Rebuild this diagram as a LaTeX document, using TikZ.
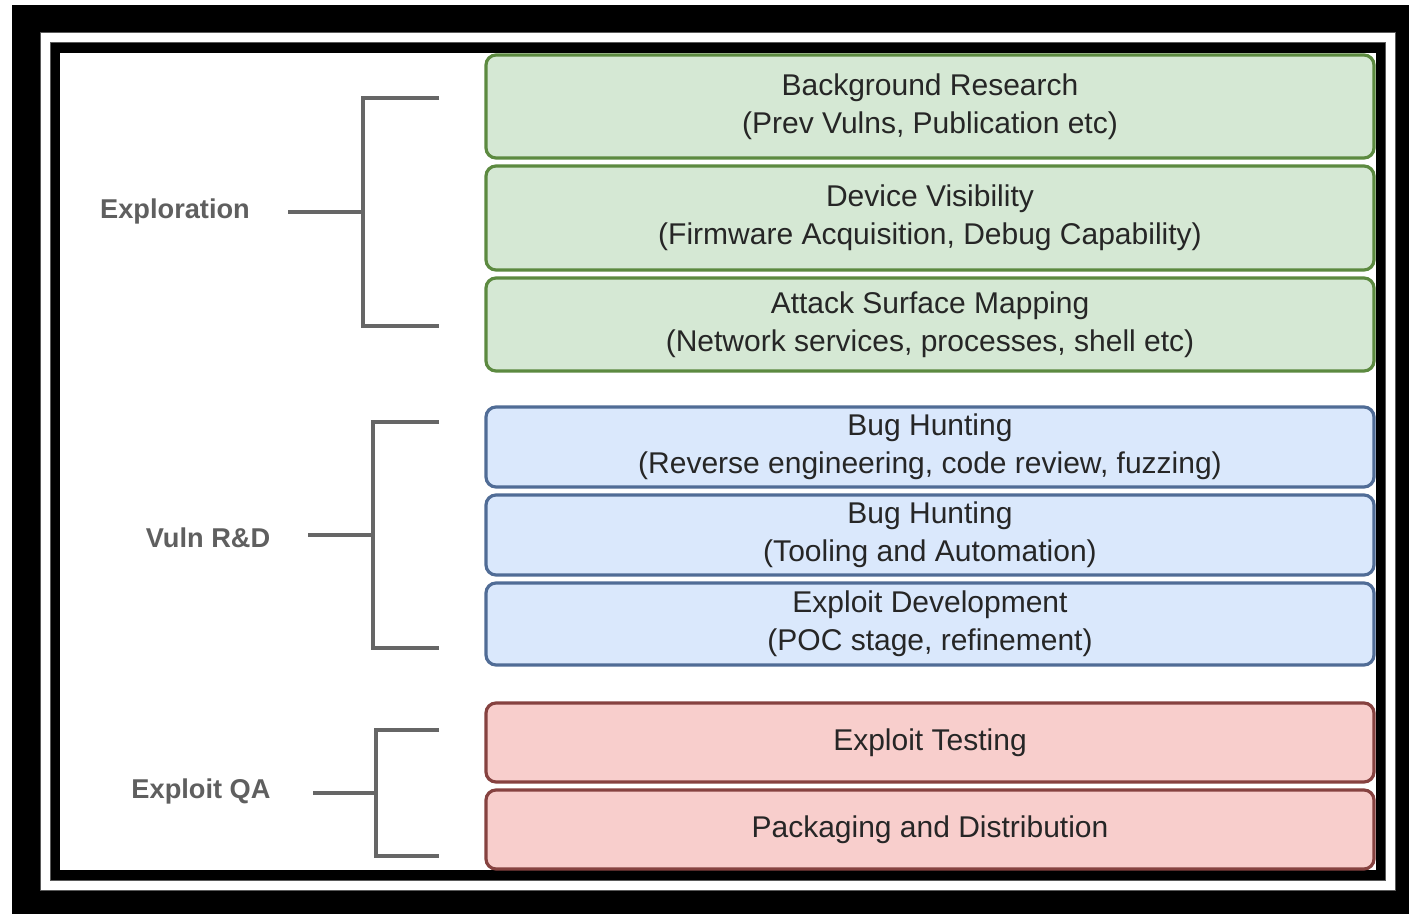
\documentclass[tikz,border=0pt]{standalone}
\usepackage{fontspec}
\setmainfont{Liberation Sans}
\begin{document}
\begin{tikzpicture}[x=0.5pt,y=-0.5pt,
  stagebox/.style={rounded corners=5pt, line width=1.6pt, inner sep=0pt, outer sep=0pt,
    minimum width=444pt, align=center, text=black!85,
    font=\fontsize{15}{19}\selectfont},
  greenbox/.style={stagebox, fill=green!10!white, fill={rgb,255:red,213;green,232;blue,212}, draw={rgb,255:red,92;green,138;blue,64}},
  bluebox/.style={stagebox, fill={rgb,255:red,218;green,232;blue,252}, draw={rgb,255:red,80;green,108;blue,150}},
  redbox/.style={stagebox, fill={rgb,255:red,248;green,206;blue,204}, draw={rgb,255:red,134;green,66;blue,64}},
  phase/.style={font=\bfseries\fontsize{13.6}{16}\selectfont, text={rgb,255:red,95;green,95;blue,95}, inner sep=0pt},
  bracket/.style={draw={rgb,255:red,102;green,102;blue,102}, line width=2pt, line cap=butt},
  framegray/.style={draw={rgb,255:red,90;green,90;blue,90}, line width=0.5pt}
]
\useasboundingbox (0,0) rectangle (1409,914);
\fill[white] (0,0) rectangle (1409,914);
\fill[black] (12,5) rectangle (1409,914);
\filldraw[fill=white, framegray] (40,33) rectangle (1395,890);
\filldraw[fill=black, framegray] (50,43) rectangle (1385,880);
\fill[white] (60,53) rectangle (1376,870);

% stage boxes
\node[greenbox, minimum height=51.5pt] (b1) at (930,106.5) {Background Research\\(Prev Vulns, Publication etc)};
\node[greenbox, minimum height=52pt] (b2) at (930,218) {Device Visibility\\(Firmware Acquisition, Debug Capability)};
\node[greenbox, minimum height=46.5pt] (b3) at (930,324.5) {Attack Surface Mapping\\(Network services, processes, shell etc)};
\node[bluebox, minimum height=40pt] (b4) at (930,447) {Bug Hunting\\(Reverse engineering, code review, fuzzing)};
\node[bluebox, minimum height=40pt] (b5) at (930,535) {Bug Hunting\\(Tooling and Automation)};
\node[bluebox, minimum height=41pt] (b6) at (930,624) {Exploit Development\\(POC stage, refinement)};
\node[redbox, minimum height=39.5pt] (b7) at (930,742.5) {Exploit Testing};
\node[redbox, minimum height=39.5pt] (b8) at (930,829.5) {Packaging and Distribution};

% phase labels
\node[phase] (p1) at (175,211) {Exploration};
\node[phase] (p2) at (208,538) {Vuln R\&D};
\node[phase] (p3) at (201,791) {Exploit QA};

% bracket coordinates
\coordinate (s1) at (288,212);
\coordinate (j1) at (363,212);
\coordinate (t1) at (363,98);
\coordinate (u1) at (363,326);
\coordinate (e1a) at (439,98);
\coordinate (e1b) at (439,326);

\coordinate (s2) at (308,535);
\coordinate (j2) at (373,535);
\coordinate (t2) at (373,422);
\coordinate (u2) at (373,648);
\coordinate (e2a) at (439,422);
\coordinate (e2b) at (439,648);

\coordinate (s3) at (313,793);
\coordinate (j3) at (376,793);
\coordinate (t3) at (376,730);
\coordinate (u3) at (376,856);
\coordinate (e3a) at (439,730);
\coordinate (e3b) at (439,856);

\draw[bracket] (s1) -- (j1);
\draw[bracket] (e1a) -- (t1) -- (u1) -- (e1b);
\draw[bracket] (s2) -- (j2);
\draw[bracket] (e2a) -- (t2) -- (u2) -- (e2b);
\draw[bracket] (s3) -- (j3);
\draw[bracket] (e3a) -- (t3) -- (u3) -- (e3b);
\end{tikzpicture}
\end{document}
